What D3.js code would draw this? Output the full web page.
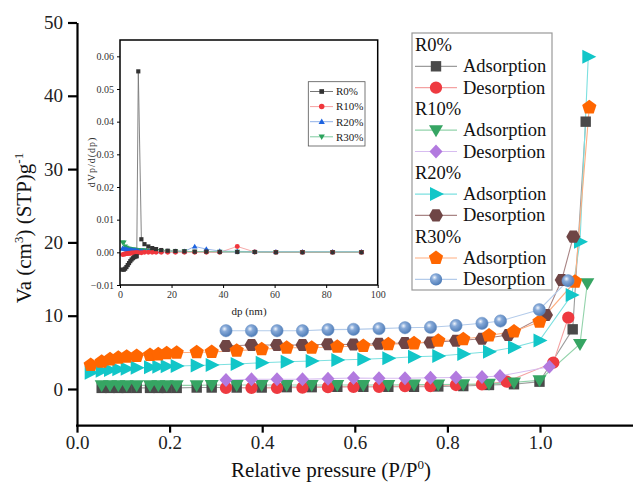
<!DOCTYPE html>
<html><head><meta charset="utf-8">
<script src="https://cdn.jsdelivr.net/npm/d3@7"></script>
<style>body{margin:0;background:#fff}</style>
</head><body><svg id="c" width="633" height="482"></svg>
<script>
// ---------------- main isotherm data ----------------
const adsX = [0.0296,0.0533,0.0713,0.0892,0.1073,0.1289,0.1577,0.1756,0.1937,0.2153,0.2585,0.2909,0.3449,0.3989,0.4529,0.5069,0.5622,0.6184,0.6724,0.7279,0.7803,0.8343,0.8898,0.9438,0.9989];
const desX = [0.3218,0.3769,0.4320,0.4870,0.5421,0.5972,0.6523,0.7084,0.7635,0.8186,0.8747];

const r30AdsY = [3.27,3.72,4.05,4.27,4.41,4.50,4.64,4.73,4.87,4.95,5.01,5.05,5.23,5.42,5.63,5.63,5.77,5.87,6.10,6.23,6.59,6.78,7.30,7.84,9.18];
const r30AdsTailX = [1.0756,1.1065];
const r30AdsTailY = [14.64,38.43];

const r20AdsY = [2.22,2.50,2.59,2.69,2.77,2.91,2.96,3.04,3.10,3.14,3.21,3.27,3.41,3.59,3.72,3.82,3.96,4.05,4.19,4.41,4.50,4.77,5.09,5.69,6.62];
const r20AdsTailX = [1.0685,1.0864,1.1043];
const r20AdsTailY = [12.82,20.10,45.33];

const r0AdsY = [0.15,0.15,0.15,0.15,0.15,0.15,0.15,0.15,0.15,0.2,0.2,0.2,0.2,0.25,0.25,0.3,0.3,0.3,0.3,0.35,0.4,0.55,0.65,1.0];
const r0AdsTailX = [1.0706,1.0987];
const r0AdsTailY = [8.14,36.47];

const r10AdsY = [0.5,0.5,0.5,0.5,0.5,0.5,0.5,0.5,0.5,0.5,0.55,0.55,0.55,0.55,0.55,0.55,0.55,0.55,0.6,0.6,0.65,0.7,0.9,1.2];
const r10AdsTailX = [1.0864,1.1022];
const r10AdsTailY = [6.14,14.42];

const r30DesY = [7.95,7.95,7.95,7.95,8.10,8.14,8.23,8.36,8.42,8.66,8.96];
const r30DesTailX = [0.9147,0.9985,1.0605];
const r30DesTailY = [9.28,10.82,14.77];

const r20DesY = [5.87,6.0,6.0,6.0,6.1,6.07,6.17,6.28,6.34,6.58,6.85];
const r20DesTailX = [0.9315,1.0130,1.0469,1.0719];
const r20DesTailY = [7.37,10.1,14.87,20.78];

const r0DesY = [0.15,0.15,0.15,0.2,0.25,0.3,0.3,0.4,0.4,0.55,0.64];
const r0DesTailX = [0.9281,1.0287,1.0611];
const r0DesTailY = [1.0,3.59,9.73];

const r10DesY = [1.23,1.32,1.32,1.32,1.41,1.5,1.46,1.46,1.54,1.57,1.64];
const r10DesTailX = [0.9136,1.0201];
const r10DesTailY = [1.77,3.04];

const xTicks = [0.0,0.2,0.4,0.6,0.8,1.0];
const yTicks = [0,10,20,30,40,50];

// ---------------- inset pore-size data ----------------
const insetDpA = [1,1.5,2,2.5,3,3.5,4,4.5,5,5.5,6,6.5,7.1,8.3,9.5,11,12.5,14,16,18.5,21.5,25,29,33.5,38.7,45.5,52.3,60.5,70.8,82.5,93.7];
const inR0 = [-0.0053,-0.0053,-0.0050,-0.0045,-0.0039,-0.0033,-0.0027,-0.0022,-0.0018,-0.0015,-0.0013,-0.0012,0.0554,0.0040,0.0025,0.0018,0.0013,0.0010,0.0007,0.0005,0.0004,0.0003,0.0002,0.0002,0.0001,0.0001,0.0001,0,0,0,0];
const inR10 = [-0.0007,-0.0006,-0.0005,-0.0004,-0.0004,-0.0003,-0.0003,-0.0002,-0.0002,-0.0002,-0.0001,-0.0001,-0.0001,-0.0001,0,0,0,0,0,0,0,0,0,0,0,0.0018,0.0001,0,0,0,0];
const inR20 = [0.0012,0.0011,0.0010,0.0009,0.0008,0.0008,0.0007,0.0007,0.0006,0.0006,0.0006,0.0005,0.0005,0.0005,0.0004,0.0004,0.0004,0.0003,0.0003,0.0003,0.0003,0.0003,0.0018,0.0010,0.0004,0.0003,0.0002,0.0002,0.0002,0.0002,0.0002];
const inR30 = [0.0030,0.0030,0.0018,0.0014,0.0012,0.0011,0.0010,0.0009,0.0009,0.0008,0.0008,0.0007,0.0007,0.0006,0.0006,0.0005,0.0005,0.0004,0.0004,0.0003,0.0003,0.0003,0.0002,0.0002,0.0002,0.0002,0.0001,0.0001,0.0001,0.0001,0.0001];
const insetXTicks = [0,20,40,60,80,100];
const insetYTicks = [-0.01,0,0.01,0.02,0.03,0.04,0.05,0.06];

// ---------------- drawing ----------------
const FONT = "Liberation Serif";
const svg = d3.select("#c");
const defs = svg.append("defs");
const g = defs.append("radialGradient").attr("id","sph").attr("cx","38%").attr("cy","35%").attr("r","65%");
g.append("stop").attr("offset","0%").attr("stop-color","#f2f6fc");
g.append("stop").attr("offset","35%").attr("stop-color","#86a9d8");
g.append("stop").attr("offset","100%").attr("stop-color","#4f7db8");

const x = d3.scaleLinear().domain([0,1.2]).range([77,632.6]);
const y = d3.scaleLinear().domain([-5,50]).range([425.65,22.5]);

function poly(n, r, start){
  const pts=[];for(let i=0;i<n;i++){const a=(start+i*360/n)*Math.PI/180;pts.push([r*Math.cos(a),r*Math.sin(a)]);}
  return "M"+pts.map(p=>p[0].toFixed(2)+","+p[1].toFixed(2)).join("L")+"Z";
}
function shape(t, k){
  k = k||1;
  switch(t){
    case "square": return `M${-5.2*k},${-5.2*k}h${10.4*k}v${10.4*k}h${-10.4*k}Z`;
    case "circle": return d3.symbol(d3.symbolCircle, Math.PI*38*k*k)();
    case "tdown": return `M${-7*k},${-5*k}L${7*k},${-5*k}L0,${7*k}Z`;
    case "tup": return `M${-7*k},${5*k}L${7*k},${5*k}L0,${-7*k}Z`;
    case "diamond": return `M0,${-7*k}L${6.5*k},0L0,${7*k}L${-6.5*k},0Z`;
    case "tright": return `M${-6*k},${-7*k}L${8*k},0L${-6*k},${7*k}Z`;
    case "hex": return poly(6,7*k,0);
    case "pent": return poly(5,7.5*k,-90);
  }
}

const series = [
  {name:"R0%", kind:"Adsorption", xs:adsX.slice(1).concat(r0AdsTailX), ys:r0AdsY.concat(r0AdsTailY), shape:"square", fill:"#4a4a4a", line:"#9c9c9c"},
  {name:"R0%", kind:"Desorption", xs:desX.concat(r0DesTailX), ys:r0DesY.concat(r0DesTailY), shape:"circle", fill:"#ee3a40", line:"#f4a2a2"},
  {name:"R10%", kind:"Adsorption", xs:adsX.slice(1).concat(r10AdsTailX), ys:r10AdsY.concat(r10AdsTailY), shape:"tdown", fill:"#36a563", line:"#93d3ab"},
  {name:"R10%", kind:"Desorption", xs:desX.concat(r10DesTailX), ys:r10DesY.concat(r10DesTailY), shape:"diamond", fill:"#b27adf", line:"#d7bdf0"},
  {name:"R20%", kind:"Adsorption", xs:adsX.concat(r20AdsTailX), ys:r20AdsY.concat(r20AdsTailY), shape:"tright", fill:"#12c6c8", line:"#7ce0e0"},
  {name:"R20%", kind:"Desorption", xs:desX.concat(r20DesTailX), ys:r20DesY.concat(r20DesTailY), shape:"hex", fill:"#6f4545", line:"#a98585"},
  {name:"R30%", kind:"Adsorption", xs:adsX.concat(r30AdsTailX), ys:r30AdsY.concat(r30AdsTailY), shape:"pent", fill:"#ff6600", line:"#ffae80"},
  {name:"R30%", kind:"Desorption", xs:desX.concat(r30DesTailX), ys:r30DesY.concat(r30DesTailY), shape:"circle", fill:"url(#sph)", line:"#b3cbea"}
];

const line = d3.line().x(d=>x(d[0])).y(d=>y(d[1]));
const plot = svg.append("g");
series.forEach(s=>{
  const pts = s.xs.map((v,i)=>[v,s.ys[i]]);
  plot.append("path").attr("d",line(pts)).attr("fill","none").attr("stroke",s.line).attr("stroke-width",1.1);
});
series.forEach(s=>{
  const pts = s.xs.map((v,i)=>[v,s.ys[i]]);
  plot.selectAll(null).data(pts).enter().append("path")
    .attr("d",shape(s.shape)).attr("transform",d=>`translate(${x(d[0])},${y(d[1])})`)
    .attr("fill",s.fill).attr("stroke",s.fill.startsWith("url")?"#6d93c4":"none").attr("stroke-width",0.5);
});

// axes
const xAxis = svg.append("g").attr("transform",`translate(0,${y(-5)})`)
  .call(d3.axisBottom(x).tickValues(xTicks).tickFormat(d3.format(".1f")).tickSize(7).tickSizeOuter(0));
const yAxis = svg.append("g").attr("transform",`translate(${x(0)},0)`)
  .call(d3.axisLeft(y).tickValues(yTicks).tickSize(9).tickSizeOuter(0));
[xAxis,yAxis].forEach(a=>{
  a.attr("font-family",FONT);
  a.select(".domain").attr("stroke","#000").attr("stroke-width",2.2);
  a.selectAll(".tick line").attr("stroke","#000").attr("stroke-width",2.2);
  a.selectAll(".tick text").attr("font-size",19).attr("fill","#222").attr("font-family",FONT);
});
xAxis.select(".domain").attr("d",`M${x(0)-1},0H640`);
xAxis.selectAll(".tick text").attr("dy","0.72em");
yAxis.selectAll(".tick text").attr("dx","-2");

// axis titles
const xt = svg.append("text").attr("x",331).attr("y",477).attr("text-anchor","middle").attr("font-size",21).attr("font-family",FONT).attr("fill","#111");
xt.append("tspan").text("Relative pressure (P/P");
xt.append("tspan").attr("font-size",13).attr("dy",-8).text("0");
xt.append("tspan").attr("dy",8).text(")");

const yt = svg.append("text").attr("transform","translate(31,228) rotate(-90)").attr("text-anchor","middle").attr("font-size",21).attr("font-family",FONT).attr("fill","#111");
yt.append("tspan").text("Va (cm");
yt.append("tspan").attr("font-size",13).attr("dy",-8).text("3");
yt.append("tspan").attr("dy",8).text(") (STP)g");
yt.append("tspan").attr("font-size",13).attr("dy",-8).text("-1");

// legend
const lg = svg.append("g");
lg.append("rect").attr("x",412).attr("y",33).attr("width",140).attr("height",257).attr("fill","#fff").attr("stroke","#999").attr("stroke-width",1.2);
const groups = ["R0%","R10%","R20%","R30%"];
let row = 0;
groups.forEach(gname=>{
  const cy = 45 + row*21.3;
  lg.append("text").attr("x",415).attr("y",cy+6).attr("font-size",18.5).attr("font-family",FONT).attr("fill","#111").text(gname);
  row++;
  series.filter(s=>s.name===gname).forEach(s=>{
    const yy = 45 + row*21.3;
    lg.append("line").attr("x1",415).attr("x2",457).attr("y1",yy).attr("y2",yy).attr("stroke",s.line).attr("stroke-width",1.2);
    lg.append("path").attr("d",shape(s.shape)).attr("transform",`translate(436,${yy})`).attr("fill",s.fill);
    lg.append("text").attr("x",463).attr("y",yy+6).attr("font-size",18.5).attr("font-family",FONT).attr("fill","#111").text(s.kind);
    row++;
  });
});

// ---------------- inset ----------------
const ix = d3.scaleLinear().domain([0,100]).range([120,377.7]);
const iy = d3.scaleLinear().domain([-0.01,0.065]).range([285,40]);
const ins = svg.append("g");
ins.append("rect").attr("x",120).attr("y",40).attr("width",257.7).attr("height",245).attr("fill","#fff");
const inSeries = [
  {name:"R0%", ys:inR0, shape:"square", fill:"#333", line:"#777"},
  {name:"R10%", ys:inR10, shape:"circle", fill:"#f0363c", line:"#f5a0a0"},
  {name:"R20%", ys:inR20, shape:"tup", fill:"#1d63e0", line:"#8fb0e8"},
  {name:"R30%", ys:inR30, shape:"tdown", fill:"#2ba35c", line:"#7fcaa0"}
];
const iline = d3.line().x(d=>ix(d[0])).y(d=>iy(d[1]));
inSeries.forEach(s=>{
  const pts = insetDpA.map((v,i)=>[v,s.ys[i]]);
  ins.append("path").attr("d",iline(pts)).attr("fill","none").attr("stroke",s.line).attr("stroke-width",0.9);
});
inSeries.slice().reverse().forEach(s=>{
  const pts = insetDpA.map((v,i)=>[v,s.ys[i]]);
  ins.selectAll(null).data(pts).enter().append("path")
    .attr("d",shape(s.shape,0.4)).attr("transform",d=>`translate(${ix(d[0])},${iy(d[1])})`).attr("fill",s.fill);
});
ins.append("rect").attr("x",120).attr("y",40).attr("width",257.7).attr("height",245).attr("fill","none").attr("stroke","#000").attr("stroke-width",1.5);
const iax = ins.append("g").attr("transform","translate(0,285)").call(d3.axisBottom(ix).tickValues(insetXTicks).tickSize(3).tickSizeOuter(0));
const iay = ins.append("g").attr("transform","translate(120,0)").call(d3.axisLeft(iy).tickValues(insetYTicks).tickFormat(d3.format(".2f")).tickSize(3).tickSizeOuter(0));
[iax,iay].forEach(a=>{
  a.attr("font-family",FONT);
  a.select(".domain").remove();
  a.selectAll(".tick line").attr("stroke","#000");
  a.selectAll(".tick text").attr("font-size",10).attr("fill","#333").attr("font-family",FONT);
});
ins.append("text").attr("x",249).attr("y",315).attr("text-anchor","middle").attr("font-size",11).attr("font-family",FONT).attr("fill","#222").text("dp (nm)");
ins.append("text").attr("transform","translate(95,162) rotate(-90)").attr("text-anchor","middle").attr("font-size",10).attr("font-family",FONT).attr("letter-spacing",1).attr("fill","#333").text("dVp/d(dp)");
// inset legend
ins.append("rect").attr("x",308.3).attr("y",81.7).attr("width",56.7).attr("height",64.3).attr("fill","#fff").attr("stroke","#555").attr("stroke-width",0.8);
inSeries.forEach((s,i)=>{
  const yy = 91.5 + i*15.1;
  ins.append("line").attr("x1",310).attr("x2",333).attr("y1",yy).attr("y2",yy).attr("stroke",s.line);
  ins.append("path").attr("d",shape(s.shape,0.45)).attr("transform",`translate(321.7,${yy})`).attr("fill",s.fill);
  ins.append("text").attr("x",336).attr("y",yy+3.8).attr("font-size",11).attr("font-family",FONT).attr("fill","#222").text(s.name);
});
</script></body></html>
